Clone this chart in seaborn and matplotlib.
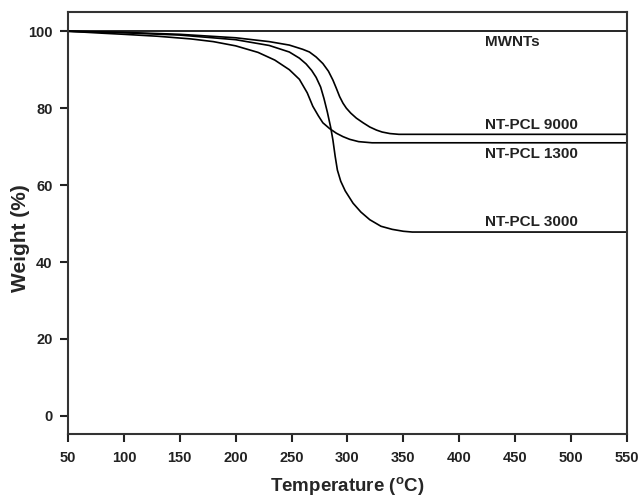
import matplotlib
matplotlib.use("Agg")
import matplotlib.pyplot as plt
from matplotlib import font_manager
import seaborn as sns
import pandas as pd

# ---- data ----
mwnt_T = [50, 550]
mwnt_W = [100, 100]

pcl1300_T = [50, 80, 100, 130, 160, 180, 200, 220, 235, 248, 257, 264, 269, 274, 278, 284, 290, 296, 302, 310, 322, 550]
pcl1300_W = [100, 99.5, 99.2, 98.7, 98.0, 97.3, 96.2, 94.5, 92.5, 90.0, 87.5, 84.0, 80.5, 78.0, 76.2, 74.7, 73.5, 72.6, 71.9, 71.3, 71.0, 71.0]

pcl3000_T = [50, 100, 150, 200, 230, 248, 257, 263, 268, 272, 276, 279, 282, 285, 287, 289, 291, 294, 298, 305, 312, 320, 330, 340, 350, 358, 550]
pcl3000_W = [100, 99.6, 99.0, 97.8, 96.3, 94.6, 93.0, 91.5, 89.8, 88.0, 85.5, 82.5, 79.0, 75.0, 71.7, 67.5, 63.9, 61.0, 58.5, 55.3, 53.0, 51.0, 49.3, 48.5, 48.0, 47.8, 47.8]

pcl9000_T = [50, 100, 150, 200, 230, 248, 260, 266, 272, 278, 283, 287, 290, 293, 296, 299, 303, 308, 314, 320, 326, 331, 338, 346, 550]
pcl9000_W = [100, 99.7, 99.2, 98.3, 97.3, 96.4, 95.3, 94.6, 93.3, 91.6, 89.6, 87.3, 85.2, 83.0, 81.3, 80.0, 78.7, 77.4, 76.2, 75.1, 74.3, 73.8, 73.4, 73.2, 73.2]

labels = ["MWNTs", "NT-PCL 9000", "NT-PCL 1300", "NT-PCL 3000"]
label_T = [423, 423, 423, 423]
label_W = [97.3, 75.6, 68.2, 50.3]

x_ticks = [50, 100, 150, 200, 250, 300, 350, 400, 450, 500, 550]
y_ticks = [0, 20, 40, 60, 80, 100]

# ---- style ----
sns.set_style("ticks")
avail = {f.name for f in font_manager.fontManager.ttflist}
main_font = "Liberation Sans" if "Liberation Sans" in avail else "DejaVu Sans"
tick_font = "Liberation Sans Narrow" if "Liberation Sans Narrow" in avail else main_font
plt.rcParams["font.family"] = [main_font, "DejaVu Sans"]
plt.rcParams["mathtext.fontset"] = "custom"
plt.rcParams["mathtext.rm"] = main_font + ":bold"

fig = plt.figure(figsize=(6.38, 5.0), dpi=100)
ax = fig.add_axes([0.1066, 0.132, 0.876, 0.844])

series = [(mwnt_T, mwnt_W), (pcl9000_T, pcl9000_W), (pcl1300_T, pcl1300_W), (pcl3000_T, pcl3000_W)]
for name, (T, W) in zip(labels, series):
    df = pd.DataFrame({"T": T, "W": W})
    sns.lineplot(data=df, x="T", y="W", ax=ax, color="black", linewidth=1.2,
                 estimator=None, sort=False, legend=False)

for name, tx, ty in zip(labels, label_T, label_W):
    ax.text(tx, ty, name, fontsize=11, fontweight="bold", color="#222222",
            ha="left", va="center", family=[main_font, "DejaVu Sans"])

ax.set_xlim(50, 550)
ax.set_ylim(-4.7, 105)
ax.set_xticks(x_ticks)
ax.set_yticks(y_ticks)
tfs = 12.5 if tick_font != main_font else 10.5
ax.set_xticklabels([str(v) for v in x_ticks], fontsize=tfs,
                   fontweight="bold", family=[tick_font, "DejaVu Sans"])
ax.set_yticklabels([str(v) for v in y_ticks], fontsize=tfs,
                   fontweight="bold", family=[tick_font, "DejaVu Sans"])
ax.tick_params(axis="x", direction="out", length=6, width=1.5, pad=6, colors="#222222")
ax.tick_params(axis="y", direction="out", length=6, width=1.5, pad=5, colors="#222222")
ax.tick_params(top=False, right=False)
for s in ax.spines.values():
    s.set_visible(True)
    s.set_linewidth(1.5)
    s.set_color("#333333")

ax.set_xlabel("Temperature ($\\mathregular{^{o}}$C)", fontsize=13.5, fontweight="bold")
ax.set_ylabel("Weight (%)", fontsize=15, fontweight="bold")
ax.xaxis.set_label_coords(0.5, -0.098)
ax.yaxis.set_label_coords(-0.068, 0.464)

fig.savefig("out.png", dpi=100)
